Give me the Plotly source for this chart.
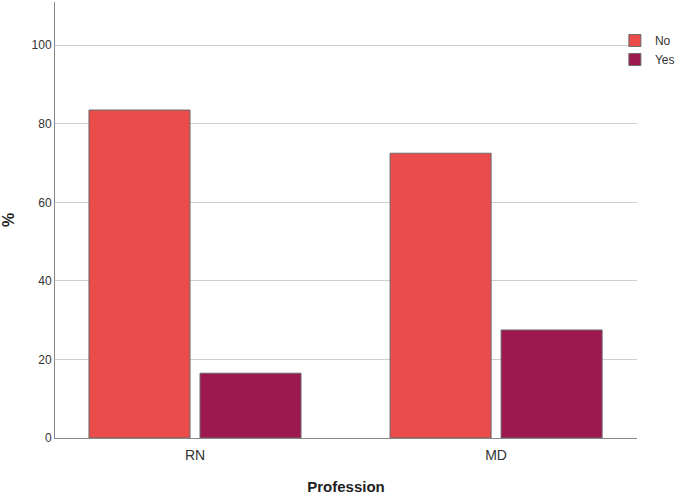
import plotly.graph_objects as go

categories = ["RN", "MD"]
no_values = [83.5, 72.5]
yes_values = [16.5, 27.5]
series_names = ["No", "Yes"]
y_ticks = [0, 20, 40, 60, 80, 100]

fig = go.Figure()
fig.add_trace(go.Bar(x=categories, y=no_values, name=series_names[0],
                     marker=dict(color="#EA4B4B", line=dict(color="#6b6b6b", width=1))))
fig.add_trace(go.Bar(x=categories, y=yes_values, name=series_names[1],
                     marker=dict(color="#9E1850", line=dict(color="#6b6b6b", width=1))))

fig.update_layout(
    width=679, height=495,
    margin=dict(l=55, r=42, t=2, b=57, autoexpand=False),
    paper_bgcolor="white", plot_bgcolor="white",
    barmode="group", bargap=0.2625, bargroupgap=0.09,
    font=dict(family="Liberation Sans, Arial, sans-serif", color="#333333"),
    legend=dict(x=0.962, y=0.945, xanchor="left", yanchor="top",
                font=dict(size=12, color="#333333"), tracegroupgap=0,
                itemwidth=30, bgcolor="rgba(0,0,0,0)"),
    xaxis=dict(title=dict(text="<b>Profession</b>", font=dict(size=15, color="#222222"), standoff=19),
               range=[-0.465, 1.468],
               showline=True, linecolor="#888888", linewidth=1, ticks="",
               ticklabelstandoff=4,
               tickfont=dict(size=14, color="#333333")),
    yaxis=dict(title=dict(text="<b>%</b>", font=dict(size=16, color="#222222"), standoff=14),
               range=[0, 111], tickvals=y_ticks, showgrid=True, gridcolor="#cfcfcf",
               showline=True, linecolor="#888888", linewidth=1, ticks="", zeroline=False,
               tickfont=dict(size=12, color="#333333")),
)

fig.write_html("out.html")
